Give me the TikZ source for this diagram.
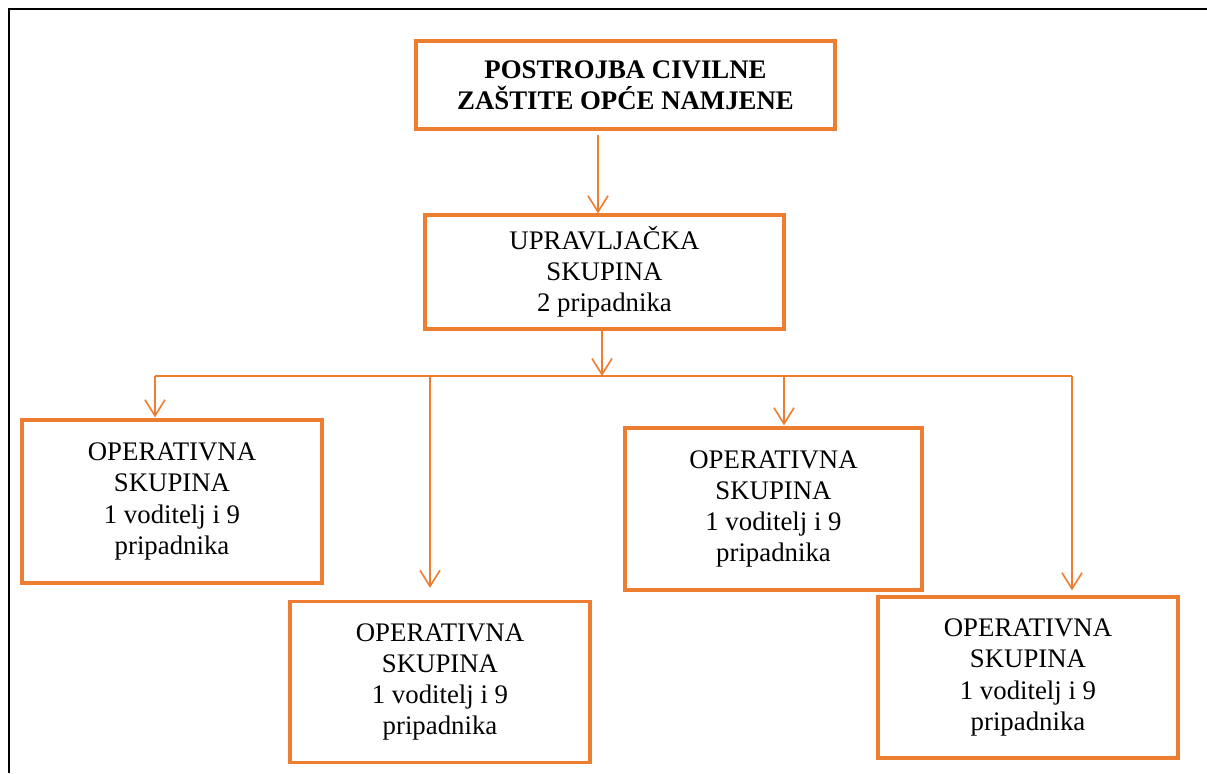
\documentclass[tikz,border=0pt]{standalone}
\usepackage{fontspec}
\setmainfont{Liberation Serif}
\usetikzlibrary{arrows.meta,calc}
\definecolor{org}{HTML}{ED7D31}
\begin{document}
\begin{tikzpicture}[x=0.5pt,y=-0.5pt,
  box/.style={draw=org,line width=1.7pt,rectangle,inner sep=0pt,align=center,
    font=\fontsize{13.4}{15.6}\selectfont,text=black},
  conn/.style={draw=org,line width=0.8pt},
  arr/.style={conn,-{Straight Barb[length=8pt,width=10pt,line width=0.8pt]}}]
\useasboundingbox (0,0) rectangle (1207,773);
\fill[white] (0,0) rectangle (1207,773);
% frame
\draw[black,line width=1pt] (1207,8.5) -- (8.5,8.5) -- (8.5,773);
% nodes
\node[box,minimum width=209.5pt,minimum height=44pt,font=\fontsize{13.4}{15.6}\selectfont\bfseries] (top) at (625.5,85)
  {POSTROJBA CIVILNE\\ZAŠTITE OPĆE NAMJENE};
\node[box,minimum width=179.5pt,minimum height=57pt] (upr) at (604.5,272)
  {UPRAVLJAČKA\\SKUPINA\\2 pripadnika};
\node[box,minimum width=150pt,minimum height=81.5pt] (b1) at (172,501.5)
  {OPERATIVNA\\SKUPINA\\1 voditelj i 9\\pripadnika};
\node[box,minimum width=150pt,minimum height=80.5pt] (b2) at (440,682)
  {OPERATIVNA\\SKUPINA\\1 voditelj i 9\\pripadnika};
\node[box,minimum width=148.5pt,minimum height=81pt] (b3) at (773.5,509)
  {OPERATIVNA\\SKUPINA\\1 voditelj i 9\\pripadnika};
\node[box,minimum width=150pt,minimum height=80.5pt] (b4) at (1028,677.5)
  {OPERATIVNA\\SKUPINA\\1 voditelj i 9\\pripadnika};
% connector coordinates
\coordinate (c0) at (598,0);
\coordinate (c1) at (602,376);
\coordinate (bl) at (155,376);
\coordinate (br) at (1072,376);
\coordinate (x2) at (430,376);
\coordinate (x3) at (784,376);
% connectors
\draw[arr] ($(top.south -| c0)+(0,4)$) -- (upr.north -| c0);
\draw[arr] ($(upr.south -| c1)+(0,-4)$) -- (c1);
\draw[conn] (bl) -- (br);
\draw[arr] (bl) -- ($(b1.north -| bl)+(0,-1)$);
\draw[arr] (x2) -- ($(b2.north -| x2)+(0,-12)$);
\draw[arr] (x3) -- ($(b3.north -| x3)+(0,-1)$);
\draw[arr] (br) -- ($(b4.north -| br)+(0,-5)$);
\end{tikzpicture}
\end{document}
